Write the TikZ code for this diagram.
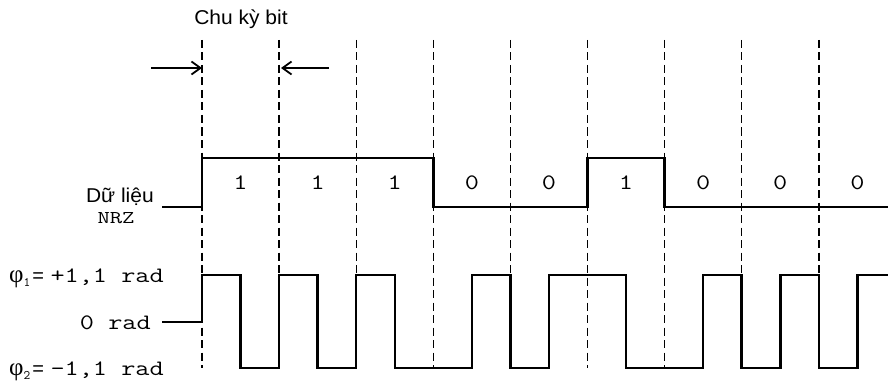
\documentclass[tikz,border=0pt]{standalone}
\usepackage{fontspec}
\usepackage{graphicx}
\setmainfont{Liberation Sans}
\newfontfamily\grkf{Liberation Serif}
\usetikzlibrary{arrows.meta}
\newcommand{\sfw}[1]{\scalebox{1.05}[1]{\fontsize{20}{20}\selectfont #1}}
\newcommand{\mnw}[1]{\scalebox{1.25}[1]{\fontsize{22}{22}\ttfamily #1}}
\newcommand{\mns}[1]{\scalebox{1.33}[1]{\fontsize{18}{18}\ttfamily #1}}
\newcommand{\phisub}[1]{{\fontsize{25}{25}\grkf φ}\raisebox{-4pt}{\fontsize{13}{13}\ttfamily #1}\hspace{2pt}{\fontsize{20}{20}\selectfont =}}
\begin{document}
\begin{tikzpicture}[x=1pt,y=-1pt,
  dashline/.style={line width=1.4pt,dash pattern=on 8pt off 4.5pt},
  sig/.style={line width=2.5pt,line join=miter,line cap=rect},
  arr/.style={line width=1.8pt,-{Straight Barb[length=9pt,width=13pt,line width=1.8pt]}},
  txt/.style={inner sep=0pt,anchor=base}]
\useasboundingbox (0,0) rectangle (888,385);
% dashed bit boundaries
\foreach \k in {0,...,8}
  \draw[dashline] ({202+77.1*\k},40) -- ({202+77.1*\k},368);
% bit period arrows
\coordinate (a1s) at (151,68);
\coordinate (a1e) at (202,68);
\coordinate (a2s) at (329,68);
\coordinate (a2e) at (281,68);
\draw[arr] (a1s) -- (a1e);
\draw[arr] (a2s) -- (a2e);
\node[txt] (title) at (241,25) {\sfw{Chu kỳ bit}};
% NRZ data
\draw[sig] (163,207) -- (202,207) -- (202,158) -- (433.3,158) -- (433.3,207)
  -- (587.5,207) -- (587.5,158) -- (664.6,158) -- (664.6,207) -- (888,207);
% bit labels
\foreach \b [count=\i from 0] in {1,1,1,0,0,1,0,0,0}
  \node[txt] (b\i) at ({240.55+77.1*\i},189) {\mnw{\b}};
\node[txt,anchor=base east] (dl) at (154,202) {\sfw{Dữ liệu}};
\node[txt] (nrz) at (116,223) {\mns{NRZ}};
% phase signal
\draw[sig] (163,322) -- (202,322) -- (202,275) -- (240.55,275) -- (240.55,368)
  -- (279.1,368) -- (279.1,275) -- (317.65,275) -- (317.65,368) -- (356.2,368)
  -- (356.2,275) -- (394.75,275) -- (394.75,368) -- (471.85,368) -- (471.85,275)
  -- (510.4,275) -- (510.4,368) -- (548.95,368) -- (548.95,275) -- (626.05,275)
  -- (626.05,368) -- (703.15,368) -- (703.15,275) -- (741.7,275) -- (741.7,368)
  -- (780.25,368) -- (780.25,275) -- (818.8,275) -- (818.8,368) -- (857.35,368)
  -- (857.35,275) -- (888,275);
\node[txt,anchor=base west] (p1n) at (9,282) {\phisub{1}};
\node[txt,anchor=base east] (p1v) at (164,282) {\mnw{+1,1 rad}};
\node[txt,anchor=base east] (p0) at (151,329) {\mnw{0 rad}};
\node[txt,anchor=base west] (p2n) at (9,375) {\phisub{2}};
\node[txt,anchor=base east] (p2v) at (164,375) {\mnw{-1,1 rad}};
\end{tikzpicture}
\end{document}
